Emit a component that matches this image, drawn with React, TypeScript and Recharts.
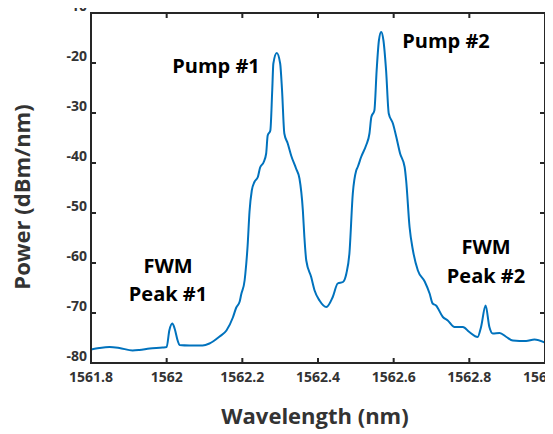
import { LineChart, Line, XAxis, YAxis } from "recharts";

// spectrum, nm / dBm/nm
const wavelength = [
  1561.8, 1561.822, 1561.849, 1561.875, 1561.91, 1561.928, 1561.955, 1561.989,
  1562.0, 1562.007, 1562.015, 1562.021, 1562.029, 1562.034, 1562.06, 1562.095,
  1562.113, 1562.14, 1562.158, 1562.175, 1562.184, 1562.193, 1562.197, 1562.206,
  1562.208, 1562.214, 1562.219, 1562.225, 1562.232, 1562.241, 1562.247, 1562.256,
  1562.263, 1562.267, 1562.274, 1562.279, 1562.282, 1562.291, 1562.3, 1562.305,
  1562.311, 1562.32, 1562.329, 1562.342, 1562.351, 1562.36, 1562.364, 1562.369,
  1562.382, 1562.391, 1562.404, 1562.422, 1562.439, 1562.452, 1562.466, 1562.475,
  1562.483, 1562.492, 1562.501, 1562.505, 1562.514, 1562.527, 1562.536, 1562.541,
  1562.549, 1562.555, 1562.561, 1562.567, 1562.573, 1562.58, 1562.587, 1562.598,
  1562.607, 1562.617, 1562.629, 1562.633, 1562.642, 1562.651, 1562.664, 1562.682,
  1562.695, 1562.703, 1562.712, 1562.73, 1562.743, 1562.761, 1562.783, 1562.8,
  1562.822, 1562.831, 1562.843, 1562.853, 1562.862, 1562.88, 1562.898, 1562.915,
  1562.95, 1562.972, 1563.0,
];
const power = [
  -77.3, -77.0, -76.8, -77.0, -77.5, -77.4, -77.1, -76.9,
  -76.8, -73.5, -72.1, -73.1, -75.5, -76.4, -76.5, -76.5,
  -76.1, -74.7, -73.5, -70.9, -68.9, -67.7, -66.3, -63.5,
  -62.1, -56.5, -49.7, -45.5, -43.8, -42.8, -40.9, -39.9,
  -38.1, -34.5, -33.5, -25.5, -20.1, -18.0, -20.1, -25.5,
  -34.1, -36.1, -38.5, -41.1, -43.1, -49.5, -54.8, -59.5,
  -62.8, -65.5, -67.5, -68.8, -66.8, -64.1, -63.8, -62.1,
  -58.1, -46.1, -41.5, -40.8, -38.8, -36.5, -34.1, -30.8,
  -29.5, -21.5, -15.5, -13.8, -15.5, -21.5, -30.1, -32.1,
  -34.8, -38.1, -40.8, -43.5, -52.8, -57.5, -61.5, -63.7,
  -66.1, -68.1, -68.5, -70.8, -71.5, -72.8, -72.8, -73.8,
  -74.8, -72.8, -68.5, -72.8, -74.1, -74.0, -74.8, -75.5,
  -75.6, -75.3, -75.9,
];

const xTicks = [1561.8, 1562, 1562.2, 1562.4, 1562.6, 1562.8, 1563];
const yTicks = [-80, -70, -60, -50, -40, -30, -20, -10];

const X_DOMAIN: [number, number] = [1561.8, 1563];
const Y_DOMAIN: [number, number] = [-80, -10];

// plot box, shared by the chart margins and the frame overlay
const W = 553;
const H = 434;
const LEFT = 91;
const TOP = 13;
const RIGHT_PAD = 8;
const BOTTOM_PAD = 71;
const PLOT_W = W - LEFT - RIGHT_PAD;
const PLOT_H = H - TOP - BOTTOM_PAD;
const TICK_LEN = 5;

const data = wavelength.map((w, i) => ({ w, p: power[i] }));

const FONT = "Open Sans, DejaVu Sans, sans-serif";
const tickFont = { fontSize: 14, fontWeight: 700, fill: "#333", fontFamily: FONT };

const px = (v: number) => LEFT + ((v - X_DOMAIN[0]) / (X_DOMAIN[1] - X_DOMAIN[0])) * PLOT_W;
const py = (v: number) => TOP + ((Y_DOMAIN[1] - v) / (Y_DOMAIN[1] - Y_DOMAIN[0])) * PLOT_H;

export default function App() {
  return (
    <div style={{ position: "relative", width: W, height: H, margin: "-8px 0 0 -8px", background: "#fff" }}>
      <LineChart width={W} height={H} data={data} margin={{ top: TOP, right: RIGHT_PAD, bottom: 0, left: 0 }}>
        <XAxis
          dataKey="w"
          type="number"
          domain={X_DOMAIN}
          ticks={xTicks}
          height={BOTTOM_PAD}
          axisLine={false}
          tickLine={false}
          tickSize={4}
          tickMargin={5}
          tick={tickFont}
        />
        <YAxis
          type="number"
          domain={Y_DOMAIN}
          ticks={yTicks}
          width={LEFT}
          axisLine={false}
          tickLine={false}
          tickSize={4}
          tickMargin={0}
          tick={{ ...tickFont, dy: -6.5 }}
        />
        <Line
          dataKey="p"
          type="monotone"
          stroke="#0072BD"
          strokeWidth={2}
          dot={false}
          isAnimationActive={false}
        />
      </LineChart>
      {/* boxed axes: plain html border */}
      <div
        style={{
          position: "absolute",
          left: LEFT - 1,
          top: TOP - 1,
          width: PLOT_W - 2,
          height: PLOT_H - 2,
          border: "2px solid #262626",
          pointerEvents: "none",
        }}
      />
      <svg width={W} height={H} style={{ position: "absolute", left: 0, top: 0, pointerEvents: "none" }}>
        {/* inward ticks as filled rects */}
        <g fill="#262626">
          {xTicks.map((t) => (
            <rect key={`xt${t}`} x={px(t) - 1} y={TOP} width={2} height={TICK_LEN} />
          ))}
          {xTicks.map((t) => (
            <rect key={`xb${t}`} x={px(t) - 1} y={TOP + PLOT_H - TICK_LEN} width={2} height={TICK_LEN} />
          ))}
          {yTicks.map((t) => (
            <rect key={`yl${t}`} x={LEFT} y={py(t) - 1} width={TICK_LEN} height={2} />
          ))}
          {yTicks.map((t) => (
            <rect key={`yr${t}`} x={LEFT + PLOT_W - TICK_LEN} y={py(t) - 1} width={TICK_LEN} height={2} />
          ))}
        </g>
        <g fontFamily={FONT} fontWeight={700} fontSize={20} fill="#000" textAnchor="middle">
          <text x={216} y={73}>Pump #1</text>
          <text x={446} y={48}>Pump #2</text>
          <text x={168} y={273}>FWM</text>
          <text x={168} y={301}>Peak #1</text>
          <text x={486} y={254}>FWM</text>
          <text x={486} y={283}>Peak #2</text>
        </g>
        <g fontFamily={FONT} fontWeight={700} fontSize={22} fill="#333" textAnchor="middle">
          <text x={315} y={424}>Wavelength (nm)</text>
          <text x={0} y={0} transform="translate(30 197) rotate(-90)">Power (dBm/nm)</text>
        </g>
      </svg>
    </div>
  );
}
